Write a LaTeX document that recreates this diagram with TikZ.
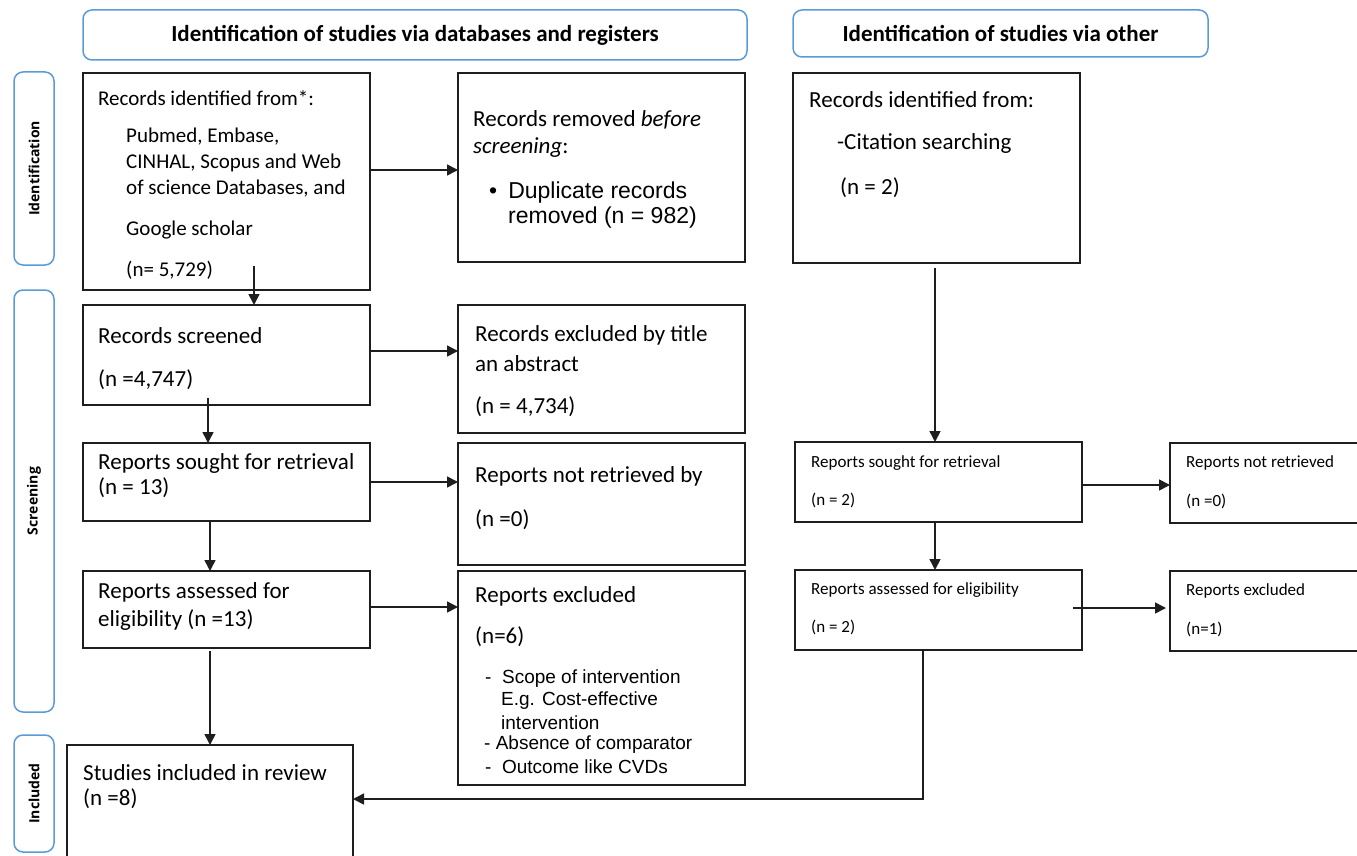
\documentclass[tikz,border=0pt]{standalone}
\usepackage{fontspec}
\setmainfont{Carlito}
\newfontfamily\arialf{Liberation Sans}
\newfontfamily\lblf{Open Sans}
\usetikzlibrary{arrows.meta,calc}
\definecolor{hblue}{RGB}{91,155,213}
\definecolor{bline}{RGB}{30,30,30}
\begin{document}
\begin{tikzpicture}[x=1pt,y=-1pt,
  box/.style={draw=bline,line width=1.8pt,anchor=north west,inner sep=0,outer sep=0},
  hdr/.style={draw=hblue,line width=1.5pt,rounded corners=9pt,anchor=north west,inner sep=0,outer sep=0},
  side/.style={draw=hblue,line width=1.5pt,rounded corners=9pt,anchor=north west,inner sep=0,outer sep=0},
  t/.style={anchor=west,inner sep=0,font=\fontsize{23}{26}\selectfont},
  tm/.style={anchor=west,inner sep=0,font=\fontsize{21}{24}\selectfont},
  ts/.style={anchor=west,inner sep=0,font=\fontsize{17}{19}\selectfont},
  ta/.style={anchor=west,inner sep=0,font=\arialf\fontsize{23}{26}\selectfont},
  tl/.style={anchor=west,inner sep=0,font=\arialf\fontsize{19}{22}\selectfont},
  ht/.style={inner sep=0,font=\bfseries\fontsize{23}{26}\selectfont},
  sl/.style={inner sep=0,rotate=90,font=\lblf\bfseries\fontsize{14}{16}\selectfont},
  arr/.style={-{Triangle[length=11pt,width=11pt]},line width=1.6pt,draw=bline}]
\useasboundingbox (0,0) rectangle (1357,856);
% headers
\node[hdr,minimum width=664pt,minimum height=50pt] (H1) at (83,10) {};
\node[ht] (H1t) at (H1.center) {Identification of studies via databases and registers};
\node[hdr,minimum width=415pt,minimum height=47pt] (H2) at (793,10) {};
\node[ht] (H2t) at (H2.center) {Identification of studies via other};
% side labels
\node[side,minimum width=40pt,minimum height=193pt] (S1) at (14,72) {};
\node[sl] (S1t) at (S1.center) {Identification};
\node[side,minimum width=40pt,minimum height=422pt] (S2) at (14,290) {};
\node[sl] (S2t) at (S2.center) {Screening};
\node[side,minimum width=40pt,minimum height=117pt] (S3) at (14,735) {};
\node[sl] (S3t) at (S3.center) {Included};
% boxes
\node[box,minimum width=287pt,minimum height=217pt] (A) at (83,73) {};
\node[box,minimum width=287pt,minimum height=189pt] (B) at (458,73) {};
\node[box,minimum width=287pt,minimum height=190pt] (C) at (793,73) {};
\node[box,minimum width=287pt,minimum height=100pt] (D) at (83,305) {};
\node[box,minimum width=287pt,minimum height=128pt] (E) at (458,305) {};
\node[box,minimum width=287pt,minimum height=78pt] (F) at (83,443) {};
\node[box,minimum width=287pt,minimum height=122pt] (G) at (458,443) {};
\node[box,minimum width=287pt,minimum height=77pt] (H) at (83,571) {};
\node[box,minimum width=287pt,minimum height=214pt] (I) at (458,571) {};
\node[box,minimum width=286pt,minimum height=115pt] (J) at (67,745) {};
\node[box,minimum width=287pt,minimum height=80pt] (K) at (795,442) {};
\node[box,minimum width=190pt,minimum height=80pt] (L) at (1170,443) {};
\node[box,minimum width=287pt,minimum height=80pt] (M) at (795,570) {};
\node[box,minimum width=190pt,minimum height=80pt] (N) at (1170,571) {};
% texts
\node[tm] (a1t) at (98,98) {Records identified from*:};
\node[tm] (a2t) at (126,137) {Pubmed, Embase,};
\node[tm] (a3t) at (126,163) {CINHAL, Scopus and Web};
\node[tm] (a4t) at (126,189) {of science Databases, and};
\node[tm] (a5t) at (126,230) {Google scholar};
\node[tm] (a6t) at (126,270) {(n= 5,729)};
\node[t] (b1t) at (473,120) {Records removed \textit{before}};
\node[t] (b2t) at (473,148) {\textit{screening}:};
\node[ta] (b3t) at (489,193) {\textbullet\hspace{11pt}Duplicate records};
\node[ta] (b4t) at (508,218) {removed (n = 982)};
\node[t] (c1t) at (809,100) {Records identified from:};
\node[t] (c2t) at (837,143) {-Citation searching};
\node[t] (c3t) at (840,188) {(n = 2)};
\node[t] (d1t) at (98,336) {Records screened};
\node[t] (d2t) at (98,380) {(n =4,747)};
\node[t] (e1t) at (475,335) {Records excluded by title};
\node[t] (e2t) at (475,364) {an abstract};
\node[t] (e3t) at (475,407) {(n = 4,734)};
\node[t] (f1t) at (98,463) {Reports sought for retrieval};
\node[t] (f2t) at (98,488) {(n = 13)};
\node[t] (g1t) at (475,476) {Reports not retrieved by};
\node[t] (g2t) at (475,520) {(n =0)};
\node[t] (h1t) at (98,592) {Reports assessed for};
\node[t] (h2t) at (98,620) {eligibility (n =13)};
\node[t] (i1t) at (475,596) {Reports excluded};
\node[t] (i2t) at (475,637) {(n=6)};
\node[tl] (i3t) at (485,679) {-\ \ Scope of intervention};
\node[tl] (i4t) at (501,701) {E.g. Cost-effective};
\node[tl] (i5t) at (501,723) {intervention};
\node[tl] (i6t) at (484,745) {- Absence of comparator};
\node[tl] (i7t) at (485,767) {-\ \ Outcome like CVDs};
\node[t] (j1t) at (83,773) {Studies included in review};
\node[t] (j2t) at (83,799) {(n =8)};
\node[ts] (k1t) at (811,463) {Reports sought for retrieval};
\node[ts] (k2t) at (811,500) {(n = 2)};
\node[ts] (l1t) at (1186,463) {Reports not retrieved};
\node[ts] (l2t) at (1186,501) {(n =0)};
\node[ts] (m1t) at (811,590) {Reports assessed for eligibility};
\node[ts] (m2t) at (811,627) {(n = 2)};
\node[ts] (n1t) at (1186,591) {Reports excluded};
\node[ts] (n2t) at (1186,629) {(n=1)};
% connectors
\coordinate (ab) at (370,170);
\draw[arr] (ab) -- (ab -| B.west);
\coordinate (ad) at (254,266);
\draw[arr] (ad) -- (ad |- D.north);
\coordinate (de) at (370,351);
\draw[arr] (de) -- (de -| E.west);
\coordinate (df) at (208,398);
\draw[arr] (df) -- (df |- F.north);
\coordinate (fg) at (370,482);
\draw[arr] (fg) -- (fg -| G.west);
\coordinate (fh) at (210,521);
\draw[arr] (fh) -- (fh |- H.north);
\coordinate (hi) at (370,607);
\draw[arr] (hi) -- (hi -| I.west);
\coordinate (hj) at (210,651);
\draw[arr] (hj) -- (hj |- J.north);
\coordinate (ck) at (935,268);
\draw[arr] (ck) -- (ck |- K.north);
\coordinate (kl) at (1082,485);
\draw[arr] (kl) -- (kl -| L.west);
\coordinate (km) at (935,522);
\draw[arr] (km) -- (km |- M.north);
\coordinate (mn) at (1073,608);
\draw[arr] (mn) -- ([xshift=-4pt]mn -| N.west);
\coordinate (mj) at (923,650);
\coordinate (mj2) at (923,799);
\draw[arr] (mj) -- (mj2) -- (mj2 -| J.east);
\end{tikzpicture}
\end{document}
